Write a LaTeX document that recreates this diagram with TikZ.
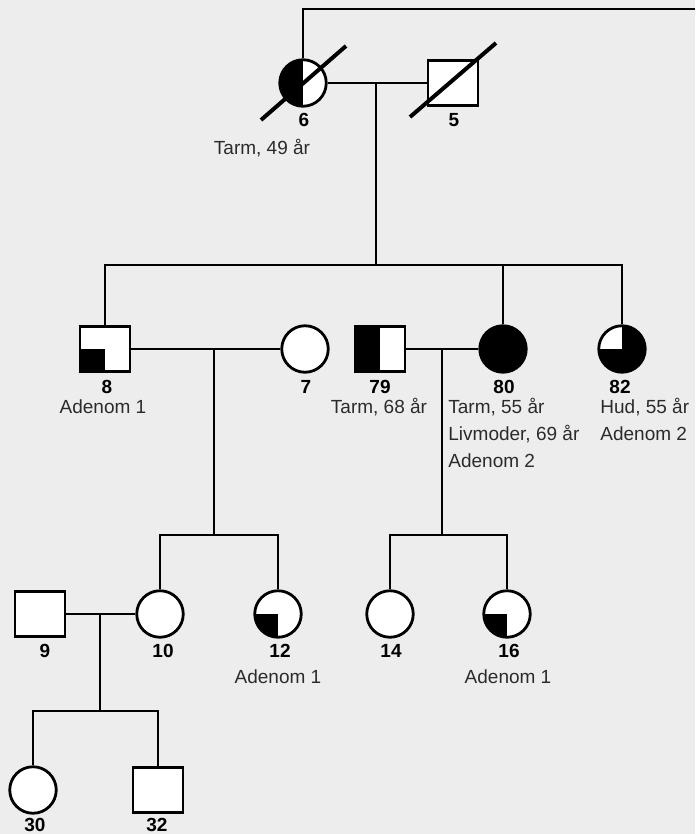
\documentclass[tikz,border=0pt]{standalone}
\usepackage{fontspec}
\setmainfont{Liberation Sans}
\usepackage{xcolor}
\usepackage{tikz}
\usetikzlibrary{positioning}
\definecolor{bgGrey}{HTML}{ECEDEC}
\definecolor{txtGrey}{HTML}{2B2B2B}

\begin{document}
\begin{tikzpicture}[x=1pt,y=-1pt,line width=2.8pt,
  fem/.style={circle,draw,fill=white,minimum size=46.5pt,inner sep=0pt},
  male/.style={rectangle,draw,fill=white,minimum width=50pt,minimum height=44.5pt,inner sep=0pt},
  lefthalf/.style={path picture={\fill[black] (path picture bounding box.south west) rectangle (path picture bounding box.north);}},
  llquad/.style={path picture={\fill[black] (path picture bounding box.south west) rectangle (path picture bounding box.center);}},
  ulwhite/.style={fill=black,path picture={\fill[white] (path picture bounding box.north west) rectangle (path picture bounding box.center);}},
  num/.style={font=\fontsize{19}{22}\selectfont\bfseries,inner sep=0pt,anchor=base},
  info/.style={font=\fontsize{19}{27}\selectfont,text=txtGrey,inner sep=0pt,anchor=base,align=left},
  slash/.style={line width=4pt}]
\useasboundingbox[fill=bgGrey] (0,0) rectangle (695,834);
% --- generation I ---
\node[fem,lefthalf] (n6) at (303,83) {};
\node[male] (n5) at (453,83) {};
\draw[slash] ([shift={(-42,37)}]n6.center) -- ([shift={(43,-37)}]n6.center);
\draw[slash] ([shift={(-43,34)}]n5.center) -- ([shift={(43,-40)}]n5.center);
\coordinate (edge) at (695,9);
\coordinate (m65) at (376,83);
\coordinate (s2) at (376,265);
\draw (n6.north) |- (edge);
\draw (n6) -- (n5);
\draw (m65) -- (s2);
\node[num] (l6) at (304,127) {6};
\node[num] (l5) at (454,127) {5};
\node[info] (t6) at (262,155) {Tarm, 49 år};
% --- generation II ---
\node[male,llquad] (n8) at (105,349) {};
\node[fem] (n7) at (305,349) {};
\node[male,lefthalf] (n79) at (380,349) {};
\node[fem,fill=black] (n80) at (503,349) {};
\node[fem,ulwhite] (n82) at (622,349) {};
\draw (n8) |- (s2) -| (n82);
\draw (n80) -- (n80 |- s2);
\coordinate (m87) at (214,349);
\coordinate (s3a) at (214,535);
\draw (n8) -- (n7);
\draw (m87) -- (s3a);
\coordinate (m7980) at (442,349);
\coordinate (s3b) at (442,535);
\draw (n79) -- (n80);
\draw (m7980) -- (s3b);
\node[num] (l8) at (107,393) {8};
\node[info] (t8) at (103,413) {Adenom 1};
\node[num] (l7) at (306,393) {7};
\node[num] (l79) at (380,393) {79};
\node[info] (t79) at (379,413) {Tarm, 68 år};
\node[num] (l80) at (504,393) {80};
% multi-line: base anchor is the last line
\node[info,anchor=base west] (t80) at (447,467) {Tarm, 55 år\\Livmoder, 69 år\\Adenom 2};
\node[num] (l82) at (620,393) {82};
\node[info,anchor=base west] (t82) at (599,440) {Hud, 55 år\\Adenom 2};
% --- generation III ---
\node[male] (n9) at (40,614) {};
\node[fem] (n10) at (160,614) {};
\node[fem,llquad] (n12) at (278,614) {};
\node[fem] (n14) at (390,614) {};
\node[fem,llquad] (n16) at (507,614) {};
\draw (n10) |- (s3a) -| (n12);
\draw (n14) |- (s3b) -| (n16);
\coordinate (m910) at (100,614);
\coordinate (s4) at (100,711);
\draw (n9) -- (n10);
\draw (m910) -- (s4);
\node[num] (l9) at (45,657) {9};
\node[num] (l10) at (163,657) {10};
\node[num] (l12) at (280,657) {12};
\node[info] (t12) at (278,683) {Adenom 1};
\node[num] (l14) at (391,657) {14};
\node[num] (l16) at (509,657) {16};
\node[info] (t16) at (508,683) {Adenom 1};
% --- generation IV ---
\node[fem] (n30) at (33,790) {};
\node[male] (n32) at (158,790) {};
\draw (n30) |- (s4) -| (n32);
\node[num] (l30) at (35,831) {30};
\node[num] (l32) at (157,831) {32};
\end{tikzpicture}
\end{document}
